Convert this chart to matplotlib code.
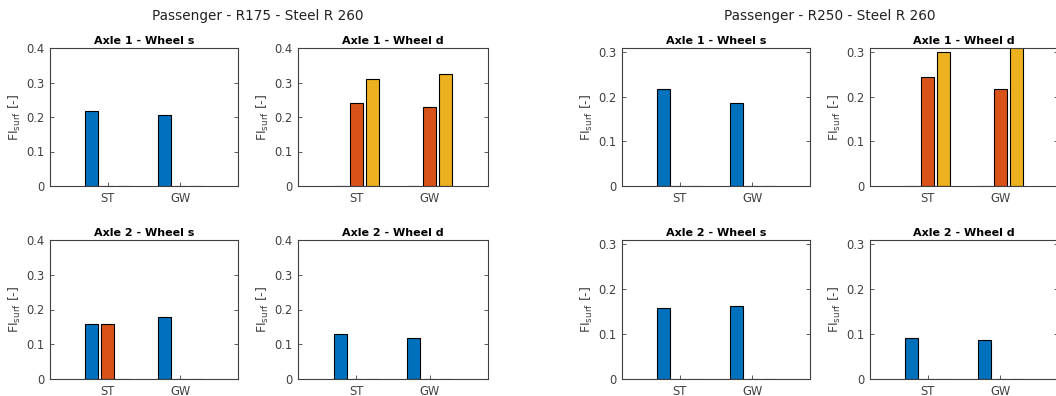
import numpy as np
import matplotlib
matplotlib.use("Agg")
import matplotlib.pyplot as plt

categories = ["ST", "GW"]
series_colors = ["#0072BD", "#D95319", "#EDB120"]

group_titles = ["Passenger - R175 - Steel R 260", "Passenger - R250 - Steel R 260"]
panel_titles = ["Axle 1 - Wheel s", "Axle 1 - Wheel d", "Axle 2 - Wheel s", "Axle 2 - Wheel d"]

# values[series][category] per panel
r175_a1_ws = [[0.217, 0.206], [0.0, 0.0], [0.0, 0.0]]
r175_a1_wd = [[0.0, 0.0], [0.240, 0.228], [0.310, 0.325]]
r175_a2_ws = [[0.157, 0.177], [0.157, 0.0], [0.0, 0.0]]
r175_a2_wd = [[0.129, 0.117], [0.0, 0.0], [0.0, 0.0]]

r250_a1_ws = [[0.218, 0.187], [0.0, 0.0], [0.0, 0.0]]
r250_a1_wd = [[0.0, 0.0], [0.244, 0.219], [0.301, 0.335]]
r250_a2_ws = [[0.158, 0.162], [0.0, 0.0], [0.0, 0.0]]
r250_a2_wd = [[0.092, 0.087], [0.0, 0.0], [0.0, 0.0]]

group_data = [
    [r175_a1_ws, r175_a1_wd, r175_a2_ws, r175_a2_wd],
    [r250_a1_ws, r250_a1_wd, r250_a2_ws, r250_a2_wd],
]
group_ylim = [0.4, 0.31]
group_yticks = [[0, 0.1, 0.2, 0.3, 0.4], [0, 0.1, 0.2, 0.3]]

W, H = 1056, 396
fig = plt.figure(figsize=(W / 100, H / 100), dpi=100)

# axes pixel boxes (left, right) per column, (top, bottom) per row
col_px = [(50, 238), (298, 488), (622, 810), (870, 1058)]
row_px = [(48, 186), (240, 379)]

tick_color = "#404040"
for g in range(2):
    for p in range(4):
        r, c = divmod(p, 2)
        cl, cr = col_px[g * 2 + c]
        rt, rb = row_px[r]
        ax = fig.add_axes([cl / W, 1 - rb / H, (cr - cl) / W, (rb - rt) / H])
        vals = group_data[g][p]
        x = np.arange(1, len(categories) + 1)
        offsets = [-0.222, 0.0, 0.222]
        for s in range(3):
            ax.bar(x + offsets[s], vals[s], width=0.18, color=series_colors[s],
                   edgecolor="black", linewidth=0.8, zorder=2)
        ax.set_xlim(0.2, 2.8)
        ax.set_ylim(0, group_ylim[g])
        ax.set_yticks(group_yticks[g])
        ax.set_yticklabels(["0" if v == 0 else f"{v:.1f}" for v in group_yticks[g]])
        ax.set_xticks(x)
        ax.set_xticklabels(categories)
        ax.tick_params(direction="in", length=3, width=0.6, labelsize=8.3,
                       colors=tick_color, right=True, top=False, pad=4)
        for sp in ax.spines.values():
            sp.set_color(tick_color)
            sp.set_linewidth(0.8)
        ax.set_title(panel_titles[p], fontsize=8, fontweight="bold", pad=3)
        ax.set_ylabel(r"FI$_{\mathrm{surf}}$ [-]", fontsize=9, color=tick_color, labelpad=2)
        ax.set_facecolor("white")

fig.text(258 / W, 1 - 16 / H, group_titles[0], ha="center", va="center", fontsize=9.8, color="#222222")
fig.text(830 / W, 1 - 16 / H, group_titles[1], ha="center", va="center", fontsize=9.8, color="#222222")

fig.savefig("out.png", dpi=100)
